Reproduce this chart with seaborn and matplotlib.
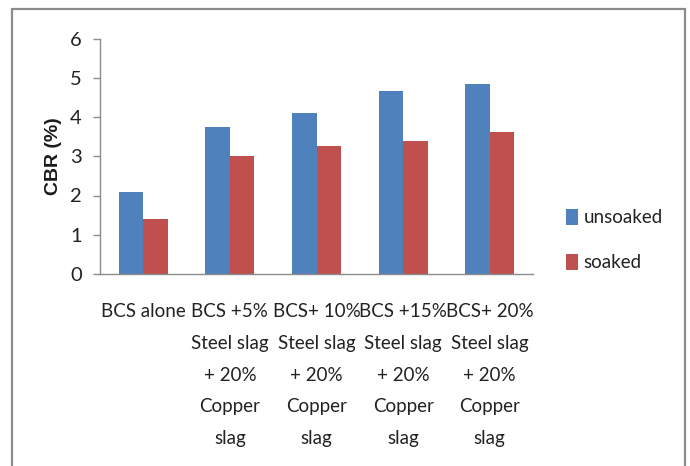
import matplotlib
matplotlib.use("Agg")
import matplotlib.pyplot as plt
from matplotlib.patches import Rectangle, Patch
import pandas as pd
import seaborn as sns

categories = [
    "BCS alone",
    "BCS +5%\nSteel slag\n+ 20%\nCopper\nslag",
    "BCS+ 10%\nSteel slag\n+ 20%\nCopper\nslag",
    "BCS +15%\nSteel slag\n+ 20%\nCopper\nslag",
    "BCS+ 20%\nSteel slag\n+ 20%\nCopper\nslag",
]
unsoaked = [2.08, 3.75, 4.11, 4.65, 4.83]
soaked = [1.40, 3.00, 3.27, 3.40, 3.63]
series_names = ["unsoaked", "soaked"]
y_ticks = [0, 1, 2, 3, 4, 5, 6]

colors = {"unsoaked": "#4F81BD", "soaked": "#C0504D"}

df = pd.DataFrame({
    "category": categories * 2,
    "series": [series_names[0]] * len(categories) + [series_names[1]] * len(categories),
    "CBR": unsoaked + soaked,
})

sns.set_theme(style="white")
plt.rcParams["font.family"] = ["Lato", "DejaVu Sans"]

fig = plt.figure(figsize=(6.9, 4.66), dpi=100)
ax = fig.add_axes([100 / 690, 1 - 274 / 466, 433 / 690, (274 - 38.5) / 466])

sns.barplot(data=df, x="category", y="CBR", hue="series", order=categories,
            hue_order=series_names, palette=colors, width=0.566, gap=0,
            linewidth=0, saturation=1, ax=ax, legend=False)

ax.set_ylim(0, 6)
ax.set_xlim(-0.5, len(categories) - 0.5)
ax.set_yticks(y_ticks)
ax.set_yticklabels([str(t) for t in y_ticks])
ax.set_xticks(range(len(categories)))
ax.set_xticklabels(categories, linespacing=2.05, ha="center")
ax.set_xlabel("")
ax.set_ylabel("CBR (%)", fontsize=14, fontweight="bold", family="Liberation Sans",
              color="#1a1a1a", labelpad=6)

for side in ("top", "right"):
    ax.spines[side].set_visible(False)
for side in ("left", "bottom"):
    ax.spines[side].set_color("#8c8c8c")
    ax.spines[side].set_linewidth(1.0)

ax.tick_params(axis="y", which="major", left=True, length=5, width=1.0,
               color="#8c8c8c", pad=8, labelsize=14.5, labelcolor="#222222")
ax.tick_params(axis="x", which="major", bottom=False, pad=15,
               labelsize=13.5, labelcolor="#222222")

handles = [Patch(facecolor=colors[s], edgecolor="none") for s in series_names]
fig.legend(handles, series_names, loc="center left",
           bbox_to_anchor=(549 / 690, 1 - 240 / 466), frameon=False,
           fontsize=13.5, handlelength=0.65, handleheight=0.95, handletextpad=0.3,
           labelspacing=1.45, labelcolor="#222222")

fig.patches.append(Rectangle((12 / 690, -0.05), (685 - 12) / 690, 1.05 - 8.5 / 466,
                             transform=fig.transFigure, fill=False,
                             edgecolor="#8c8c8c", linewidth=1.6))

fig.savefig("out.png", dpi=100)
